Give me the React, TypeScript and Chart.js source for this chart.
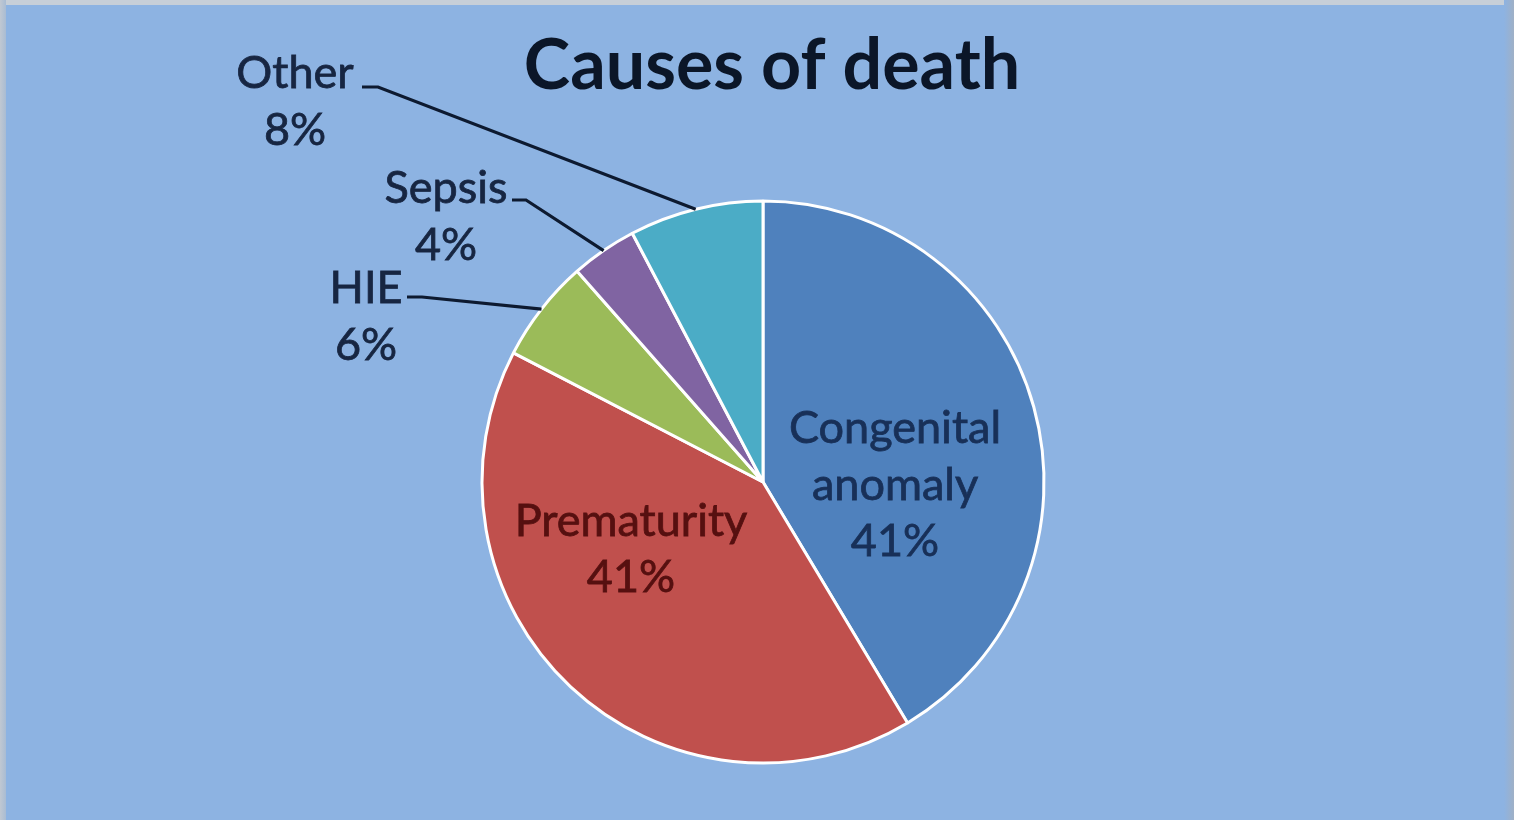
import React, { useEffect, useRef } from "react";
import { Chart, registerables } from "chart.js";

Chart.register(...registerables);

const categories = ["Congenital anomaly", "Prematurity", "HIE", "Sepsis", "Other"];
const values = [41.4, 41.2, 5.9, 3.8, 7.7];
const percentLabels = ["41%", "41%", "6%", "4%", "8%"];
const colors = ["#4F81BD", "#C0504D", "#9BBB59", "#8064A2", "#4BACC6"];
const titleText = "Causes of death";

const FONT = "Lato, 'Open Sans', sans-serif";

export default function App() {
  const ref = useRef<HTMLCanvasElement | null>(null);

  useEffect(() => {
    if (!ref.current) return;
    const labelPlugin = {
      id: "labels",
      afterDraw(chart: any) {
        const ctx = chart.ctx;
        const meta = chart.getDatasetMeta(0);
        ctx.save();
        // title
        ctx.fillStyle = "#0b1628";
        ctx.font = `bold 70px ${FONT}`;
        ctx.textAlign = "center";
        ctx.textBaseline = "middle";
        ctx.fillText(titleText, 772, 66);

        const arcPoint = (i: number) => {
          const a = meta.data[i];
          const mid = (a.startAngle + a.endAngle) / 2;
          return [a.x + Math.cos(mid) * a.outerRadius, a.y + Math.sin(mid) * a.outerRadius];
        };

        const drawText = (t: string, x: number, y: number, color: string) => {
          ctx.fillStyle = color;
          ctx.strokeStyle = color;
          ctx.lineWidth = 0.8;
          ctx.fillText(t, x, y);
          ctx.strokeText(t, x, y);
        };

        // inside labels
        ctx.font = `45px ${FONT}`;
        drawText("Congenital", 895, 428, "#183058");
        drawText("anomaly", 895, 485, "#183058");
        drawText(percentLabels[0], 895, 541, "#183058");
        drawText(categories[1], 631, 521, "#561010");
        drawText(percentLabels[1], 631, 577, "#561010");

        // outside labels
        const outside = [
          { i: 4, x: 295, y1: 73, y2: 130, lx: 362, ly: 87, ex: 378 },
          { i: 3, x: 446, y1: 188, y2: 245, lx: 512, ly: 200, ex: 526 },
          { i: 2, x: 366, y1: 288, y2: 345, lx: 407, ly: 297, ex: 422 },
        ];
        for (const o of outside) {
          drawText(categories[o.i], o.x, o.y1, "#172642");
          drawText(percentLabels[o.i], o.x, o.y2, "#172642");
          const [px, py] = arcPoint(o.i);
          ctx.strokeStyle = "#0d1a30";
          ctx.lineWidth = 3.2;
          ctx.beginPath();
          ctx.moveTo(o.lx, o.ly);
          ctx.lineTo(o.ex, o.ly);
          ctx.lineTo(px, py);
          ctx.stroke();
        }
        ctx.restore();
      },
    };

    const chart = new Chart(ref.current, {
      type: "pie",
      data: {
        labels: categories,
        datasets: [
          {
            data: values,
            backgroundColor: colors,
            borderColor: "#ffffff",
            borderWidth: 3,
          },
        ],
      },
      options: {
        responsive: false,
        animation: false,
        layout: { padding: { top: 199.5, bottom: 55.5, left: 480.5, right: 468.5 } },
        plugins: {
          legend: { display: false },
          title: { display: false },
          tooltip: { enabled: false },
        },
      },
      plugins: [labelPlugin],
    });
    return () => chart.destroy();
  }, []);

  return (
    <div
      style={{
        position: "fixed",
        left: 0,
        top: 0,
        width: 1514,
        height: 820,
        background: "#8DB3E2",
        overflow: "hidden",
      }}
    >
      <div style={{ position: "absolute", left: 0, top: 0, width: 1514, height: 5, background: "#c7cfd8" }} />
      <div style={{ position: "absolute", left: 0, top: 0, width: 6, height: 820, background: "linear-gradient(to right, #c0c8d2, #a9bcd3)" }} />
      <div style={{ position: "absolute", right: 0, top: 0, width: 10, height: 820, background: "linear-gradient(to right, #8DB3E2, #9fb0c6)" }} />
      <canvas ref={ref} width={1514} height={820} style={{ position: "absolute", left: 0, top: 0, display: "block" }} />
    </div>
  );
}
